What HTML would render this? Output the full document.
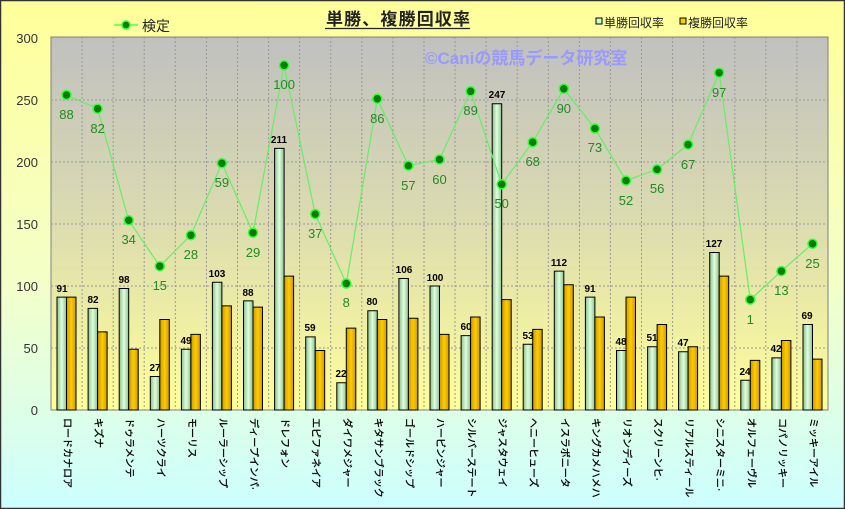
<!DOCTYPE html>
<html><head><meta charset="utf-8"><style>
body{margin:0;}
svg{display:block;font-family:"Liberation Sans","Noto Sans CJK JP",sans-serif;}
</style></head><body>
<svg width="845" height="509" viewBox="0 0 845 509">
<defs>
<linearGradient id="bg" x1="0" y1="0" x2="0" y2="1">
<stop offset="0" stop-color="#ffff99"/><stop offset="0.55" stop-color="#f4ffc8"/><stop offset="1" stop-color="#ccffff"/>
</linearGradient>
<linearGradient id="pa" x1="0" y1="0" x2="0" y2="1">
<stop offset="0" stop-color="#c0c0c0"/><stop offset="0.5" stop-color="#dcdcb0"/><stop offset="1" stop-color="#ffff99"/>
</linearGradient>
<linearGradient id="gb" x1="0" y1="0" x2="1" y2="0">
<stop offset="0" stop-color="#8fbf8f"/><stop offset="0.5" stop-color="#ddffdd"/><stop offset="1" stop-color="#8fbf8f"/>
</linearGradient>
<linearGradient id="ob" x1="0" y1="0" x2="1" y2="0">
<stop offset="0" stop-color="#cc9900"/><stop offset="0.5" stop-color="#ffcc00"/><stop offset="1" stop-color="#cc9900"/>
</linearGradient>
</defs>
<rect x="0.5" y="0.5" width="844" height="508" fill="url(#bg)" stroke="#333" stroke-width="1.5"/>
<rect x="51" y="37" width="777" height="373" fill="url(#pa)" stroke="#808080"/>
<g stroke="#999" stroke-dasharray="2,2" stroke-width="1">
<line x1="51" x2="828" y1="348" y2="348"/><line x1="51" x2="828" y1="286" y2="286"/><line x1="51" x2="828" y1="224" y2="224"/><line x1="51" x2="828" y1="162" y2="162"/><line x1="51" x2="828" y1="100" y2="100"/>
<line x1="82.1" x2="82.1" y1="37" y2="410"/><line x1="113.2" x2="113.2" y1="37" y2="410"/><line x1="144.2" x2="144.2" y1="37" y2="410"/><line x1="175.3" x2="175.3" y1="37" y2="410"/><line x1="206.4" x2="206.4" y1="37" y2="410"/><line x1="237.5" x2="237.5" y1="37" y2="410"/><line x1="268.6" x2="268.6" y1="37" y2="410"/><line x1="299.6" x2="299.6" y1="37" y2="410"/><line x1="330.7" x2="330.7" y1="37" y2="410"/><line x1="361.8" x2="361.8" y1="37" y2="410"/><line x1="392.9" x2="392.9" y1="37" y2="410"/><line x1="424" x2="424" y1="37" y2="410"/><line x1="455" x2="455" y1="37" y2="410"/><line x1="486.1" x2="486.1" y1="37" y2="410"/><line x1="517.2" x2="517.2" y1="37" y2="410"/><line x1="548.3" x2="548.3" y1="37" y2="410"/><line x1="579.4" x2="579.4" y1="37" y2="410"/><line x1="610.4" x2="610.4" y1="37" y2="410"/><line x1="641.5" x2="641.5" y1="37" y2="410"/><line x1="672.6" x2="672.6" y1="37" y2="410"/><line x1="703.7" x2="703.7" y1="37" y2="410"/><line x1="734.8" x2="734.8" y1="37" y2="410"/><line x1="765.8" x2="765.8" y1="37" y2="410"/><line x1="796.9" x2="796.9" y1="37" y2="410"/>
</g>
<g font-size="13" fill="#333" text-anchor="end">
<text x="38" y="415">0</text><text x="38" y="353">50</text><text x="38" y="291">100</text><text x="38" y="229">150</text><text x="38" y="167">200</text><text x="38" y="105">250</text><text x="38" y="43">300</text>
</g>
<text x="425" y="64" font-size="17" font-weight="bold" fill="#9999ff">©Caniの競馬データ研究室</text>
<g transform="translate(0,410) scale(1,-1.24)" stroke="#000" stroke-width="1">
<g fill="url(#gb)">
<rect vector-effect="non-scaling-stroke" x="57" width="9.5" height="91"/><rect vector-effect="non-scaling-stroke" x="88.1" width="9.5" height="82"/><rect vector-effect="non-scaling-stroke" x="119.2" width="9.5" height="98"/><rect vector-effect="non-scaling-stroke" x="150.3" width="9.5" height="27"/><rect vector-effect="non-scaling-stroke" x="181.4" width="9.5" height="49"/><rect vector-effect="non-scaling-stroke" x="212.4" width="9.5" height="103"/><rect vector-effect="non-scaling-stroke" x="243.5" width="9.5" height="88"/><rect vector-effect="non-scaling-stroke" x="274.6" width="9.5" height="211"/><rect vector-effect="non-scaling-stroke" x="305.7" width="9.5" height="59"/><rect vector-effect="non-scaling-stroke" x="336.8" width="9.5" height="22"/><rect vector-effect="non-scaling-stroke" x="367.8" width="9.5" height="80"/><rect vector-effect="non-scaling-stroke" x="398.9" width="9.5" height="106"/><rect vector-effect="non-scaling-stroke" x="430" width="9.5" height="100"/><rect vector-effect="non-scaling-stroke" x="461.1" width="9.5" height="60"/><rect vector-effect="non-scaling-stroke" x="492.2" width="9.5" height="247"/><rect vector-effect="non-scaling-stroke" x="523.2" width="9.5" height="53"/><rect vector-effect="non-scaling-stroke" x="554.3" width="9.5" height="112"/><rect vector-effect="non-scaling-stroke" x="585.4" width="9.5" height="91"/><rect vector-effect="non-scaling-stroke" x="616.5" width="9.5" height="48"/><rect vector-effect="non-scaling-stroke" x="647.6" width="9.5" height="51"/><rect vector-effect="non-scaling-stroke" x="678.6" width="9.5" height="47"/><rect vector-effect="non-scaling-stroke" x="709.7" width="9.5" height="127"/><rect vector-effect="non-scaling-stroke" x="740.8" width="9.5" height="24"/><rect vector-effect="non-scaling-stroke" x="771.9" width="9.5" height="42"/><rect vector-effect="non-scaling-stroke" x="803" width="9.5" height="69"/>
</g>
<g fill="url(#ob)">
<rect vector-effect="non-scaling-stroke" x="66.5" width="9.5" height="91"/><rect vector-effect="non-scaling-stroke" x="97.6" width="9.5" height="63"/><rect vector-effect="non-scaling-stroke" x="128.7" width="9.5" height="49"/><rect vector-effect="non-scaling-stroke" x="159.8" width="9.5" height="73"/><rect vector-effect="non-scaling-stroke" x="190.9" width="9.5" height="61"/><rect vector-effect="non-scaling-stroke" x="221.9" width="9.5" height="84"/><rect vector-effect="non-scaling-stroke" x="253" width="9.5" height="83"/><rect vector-effect="non-scaling-stroke" x="284.1" width="9.5" height="108"/><rect vector-effect="non-scaling-stroke" x="315.2" width="9.5" height="48"/><rect vector-effect="non-scaling-stroke" x="346.3" width="9.5" height="66"/><rect vector-effect="non-scaling-stroke" x="377.3" width="9.5" height="73"/><rect vector-effect="non-scaling-stroke" x="408.4" width="9.5" height="74"/><rect vector-effect="non-scaling-stroke" x="439.5" width="9.5" height="61"/><rect vector-effect="non-scaling-stroke" x="470.6" width="9.5" height="75"/><rect vector-effect="non-scaling-stroke" x="501.7" width="9.5" height="89"/><rect vector-effect="non-scaling-stroke" x="532.7" width="9.5" height="65"/><rect vector-effect="non-scaling-stroke" x="563.8" width="9.5" height="101"/><rect vector-effect="non-scaling-stroke" x="594.9" width="9.5" height="75"/><rect vector-effect="non-scaling-stroke" x="626" width="9.5" height="91"/><rect vector-effect="non-scaling-stroke" x="657.1" width="9.5" height="69"/><rect vector-effect="non-scaling-stroke" x="688.1" width="9.5" height="51"/><rect vector-effect="non-scaling-stroke" x="719.2" width="9.5" height="108"/><rect vector-effect="non-scaling-stroke" x="750.3" width="9.5" height="40"/><rect vector-effect="non-scaling-stroke" x="781.4" width="9.5" height="56"/><rect vector-effect="non-scaling-stroke" x="812.5" width="9.5" height="41"/>
</g>
</g>
<g font-size="10" font-weight="bold" fill="#000" text-anchor="middle">
<text x="62" y="292">91</text><text x="93" y="303">82</text><text x="124" y="283">98</text><text x="155" y="371">27</text><text x="186" y="344">49</text><text x="217" y="277">103</text><text x="248" y="296">88</text><text x="279" y="143">211</text><text x="310" y="331">59</text><text x="341" y="377">22</text><text x="372" y="305">80</text><text x="404" y="273">106</text><text x="435" y="281">100</text><text x="466" y="330">60</text><text x="497" y="98">247</text><text x="528" y="339">53</text><text x="559" y="266">112</text><text x="590" y="292">91</text><text x="621" y="345">48</text><text x="652" y="341">51</text><text x="683" y="346">47</text><text x="714" y="247">127</text><text x="745" y="375">24</text><text x="776" y="352">42</text><text x="807" y="319">69</text>
</g>
<polyline fill="none" stroke="#66ee66" stroke-width="1.2" points="66.5,95 97.6,108.7 128.7,220.3 159.8,266.2 190.9,235.2 221.9,163.2 253,232.7 284.1,65.3 315.2,214.1 346.3,283.5 377.3,98.8 408.4,165.7 439.5,159.5 470.6,91.3 501.7,184.3 532.7,142.2 563.8,88.8 594.9,128.5 626,180.6 657.1,169.4 688.1,144.6 719.2,72.7 750.3,299.6 781.4,271.1 812.5,243.8"/>
<g fill="#008000" stroke="#33ff33" stroke-width="1.5">
<circle cx="66.5" cy="95" r="4.5"/><circle cx="97.6" cy="108.7" r="4.5"/><circle cx="128.7" cy="220.3" r="4.5"/><circle cx="159.8" cy="266.2" r="4.5"/><circle cx="190.9" cy="235.2" r="4.5"/><circle cx="221.9" cy="163.2" r="4.5"/><circle cx="253" cy="232.7" r="4.5"/><circle cx="284.1" cy="65.3" r="4.5"/><circle cx="315.2" cy="214.1" r="4.5"/><circle cx="346.3" cy="283.5" r="4.5"/><circle cx="377.3" cy="98.8" r="4.5"/><circle cx="408.4" cy="165.7" r="4.5"/><circle cx="439.5" cy="159.5" r="4.5"/><circle cx="470.6" cy="91.3" r="4.5"/><circle cx="501.7" cy="184.3" r="4.5"/><circle cx="532.7" cy="142.2" r="4.5"/><circle cx="563.8" cy="88.8" r="4.5"/><circle cx="594.9" cy="128.5" r="4.5"/><circle cx="626" cy="180.6" r="4.5"/><circle cx="657.1" cy="169.4" r="4.5"/><circle cx="688.1" cy="144.6" r="4.5"/><circle cx="719.2" cy="72.7" r="4.5"/><circle cx="750.3" cy="299.6" r="4.5"/><circle cx="781.4" cy="271.1" r="4.5"/><circle cx="812.5" cy="243.8" r="4.5"/>
</g>
<g font-size="13" fill="#228b22" text-anchor="middle">
<text x="66.5" y="119">88</text><text x="97.6" y="133">82</text><text x="128.7" y="244">34</text><text x="159.8" y="290">15</text><text x="190.9" y="259">28</text><text x="221.9" y="187">59</text><text x="253" y="257">29</text><text x="284.1" y="89">100</text><text x="315.2" y="238">37</text><text x="346.3" y="307">8</text><text x="377.3" y="123">86</text><text x="408.4" y="190">57</text><text x="439.5" y="184">60</text><text x="470.6" y="115">89</text><text x="501.7" y="208">50</text><text x="532.7" y="166">68</text><text x="563.8" y="113">90</text><text x="594.9" y="152">73</text><text x="626" y="205">52</text><text x="657.1" y="193">56</text><text x="688.1" y="169">67</text><text x="719.2" y="97">97</text><text x="750.3" y="324">1</text><text x="781.4" y="295">13</text><text x="812.5" y="268">25</text>
</g>
<g font-size="10" fill="#000" stroke="#000" stroke-width="0.3" dominant-baseline="central">
<text transform="translate(66.5,418) rotate(90)">ロードカナロア</text><text transform="translate(97.6,418) rotate(90)">キズナ</text><text transform="translate(128.7,418) rotate(90)">ドゥラメンテ</text><text transform="translate(159.8,418) rotate(90)">ハーツクライ</text><text transform="translate(190.9,418) rotate(90)">モーリス</text><text transform="translate(221.9,418) rotate(90)">ルーラーシップ</text><text transform="translate(253,418) rotate(90)">ディープインパ·</text><text transform="translate(284.1,418) rotate(90)">ドレフォン</text><text transform="translate(315.2,418) rotate(90)">エピファネイア</text><text transform="translate(346.3,418) rotate(90)">ダイワメジャー</text><text transform="translate(377.3,418) rotate(90)">キタサンブラック</text><text transform="translate(408.4,418) rotate(90)">ゴールドシップ</text><text transform="translate(439.5,418) rotate(90)">ハービンジャー</text><text transform="translate(470.6,418) rotate(90)">シルバーステート</text><text transform="translate(501.7,418) rotate(90)">ジャスタウェイ</text><text transform="translate(532.7,418) rotate(90)">ヘニーヒューズ</text><text transform="translate(563.8,418) rotate(90)">イスラボニータ</text><text transform="translate(594.9,418) rotate(90)">キングカメハメハ</text><text transform="translate(626,418) rotate(90)">リオンディーズ</text><text transform="translate(657.1,418) rotate(90)">スクリーンヒ·</text><text transform="translate(688.1,418) rotate(90)">リアルスティール</text><text transform="translate(719.2,418) rotate(90)">シニスターミニ·</text><text transform="translate(750.3,418) rotate(90)">オルフェーヴル</text><text transform="translate(781.4,418) rotate(90)">コパノリッキー</text><text transform="translate(812.5,418) rotate(90)">ミッキーアイル</text>
</g>
<text x="326" y="25" font-size="17" font-weight="bold" fill="#222" textLength="144">単勝、複勝回収率</text>
<line x1="325" x2="470" y1="28.5" y2="28.5" stroke="#222" stroke-width="1.3"/>
<line x1="114" x2="138" y1="25" y2="25" stroke="#33ff33" stroke-width="1.2"/>
<circle cx="126" cy="25" r="4" fill="#008000" stroke="#33ff33" stroke-width="1.5"/>
<text x="142" y="31" font-size="14" fill="#222">検定</text>
<rect x="596" y="18" width="6" height="6" fill="#ccffcc" stroke="#000"/>
<text x="604" y="27" font-size="12" fill="#222">単勝回収率</text>
<rect x="680" y="18" width="6" height="6" fill="#ffcc00" stroke="#000"/>
<text x="688" y="27" font-size="12" fill="#222">複勝回収率</text>
</svg>
</body></html>
